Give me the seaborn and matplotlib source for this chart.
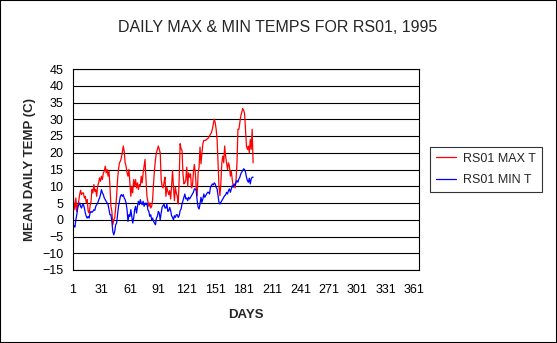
import matplotlib
matplotlib.use("Agg")
import matplotlib.pyplot as plt
import pandas as pd
import seaborn as sns
from matplotlib.patches import Rectangle

# Daily max temperature (C), days 1..191
max_temp = [7.5, 5, 3, 6.5, 2.5, 4.5, 5.5, 7.5, 8.8, 7.5, 8, 8, 6.5, 7, 5, 6, 2.5, 2, 4, 5.5,
            9, 8, 10.5, 8.5, 9, 7, 10, 11, 12.5, 11.5, 13, 12, 14, 14.5, 16, 14, 15, 13, 14.5, 10,
            4, 2.5, -1.5, 0, 0.5, 3.5,
            7, 12, 15, 17, 17.5, 18.5, 20, 22, 20.5, 17, 16, 14, 13, 15, 11, 7, 10, 8, 12, 10,
            12, 9.5, 11, 9, 10.5, 10, 13, 11, 14, 16, 18, 12, 7, 5.5, 4, 5, 3.5, 4, 6, 11,
            15, 18, 20, 21, 22, 21, 20,
            12, 10, 9.5, 11, 12.7, 7, 9.7, 8.5, 7.5, 8.7, 6.2, 10, 14.7, 9.7, 5.7, 9.7, 8, 7, 4.7, 12,
            22.7, 21.2, 20.7, 13.7, 10.7, 11, 12, 15.7, 10, 14, 12.7, 13.7, 9.5, 10, 14, 16.5, 14, 9.7, 7.2, 14,
            15.7, 21.7, 16.7, 19.7, 22.7, 23.7, 23.7, 23.7, 24, 24.2, 24.5, 25,
            25.5, 26, 27, 28.5, 30, 29, 27, 24, 17, 10, 7.2, 11, 17, 19, 17, 22, 19, 17, 15, 17,
            16, 13, 14.5, 12, 10, 10.5, 9.5, 12, 17, 27, 27, 29, 31, 32, 33.2, 32.7, 31.7, 27, 22, 21,
            22, 20, 24, 21, 27, 17]

# Daily min temperature (C), days 1..191
min_temp = [-1.5, -1.8, -2.2, 0, 1.5, 3.5, 4.5, 5, 4, 3.5, 4.5, 4.5, 3.5, 2, 1, 0.5, 1, 0.5, 2, 2.5,
            2.2, 2.5, 3, 2.8, 4, 4.5, 5, 5.8, 6.5, 7.5, 9, 8, 7.5, 6.5, 6, 5.5, 5, 4.5, 3, 1.5,
            1.5, -0.5, -3.5, -4.5, -3.5, -1.5,
            -1, 1.5, 4, 5.5, 7, 7.5, 7, 7.5, 6.5, 6, 5, 3, -0.5, 1.5, 1, 3, 1, -1, 0.5, 3,
            4, 2, 4, 5.5, 4.5, 6, 5, 4.5, 5.5, 4, 5, 4.5, 5, 3, 2.5, 1, 1.5, 0, 0.5, -0.5,
            -1, -1.5, 0.5, 1, 2.5, 2, 0,
            2, 3.7, 4.2, 4.7, 3.5, 3.5, 4.7, 2.5, 2.7, 3.7, 2.7, 1.2, 0.7, 0, 1.2, 0.7, 1.5, 1.5, 0.7, 1.2,
            2.7, 3.2, 4.7, 5.7, 6.7, 7.7, 6.2, 6.5, 5.7, 6.7, 6.2, 6.7, 7.2, 7.7, 8.2, 9.2, 9.2, 8.7, 5.7, 3.7,
            3.2, 4.7, 6.7, 5.2, 6.2, 7.7, 6.7, 7.2, 7.7, 8.2, 8.2, 7.7,
            9.7, 10.2, 10.7, 10.4, 11, 10.7, 9.7, 9.2, 7.2, 5.2, 4.7, 5.2, 5.7, 6.2, 6.7, 7.2, 7.4, 8.2, 7.7, 8.7,
            9.2, 8.2, 9.2, 10.2, 9.7, 10.7, 10.2, 11.2, 11.7, 11.2, 12.2, 12.7, 13.7, 14.2, 14.7, 15.2, 15, 14.2, 12.7, 11.7,
            11.2, 12.4, 10.7, 12.2, 12.7, 12.7]

days = list(range(1, len(max_temp) + 1))
series_names = ["RS01 MAX T", "RS01 MIN T"]
series_colors = ["#ff0000", "#0000ff"]
x_ticks = [1, 31, 61, 91, 121, 151, 181, 211, 241, 271, 301, 331, 361]
y_ticks = list(range(-15, 50, 5))

sns.set_style("white")
plt.rcParams['font.family'] = ['Liberation Sans', 'DejaVu Sans']

n = len(days)
df = pd.DataFrame({
    "day": days + days,
    "temp": max_temp + min_temp,
    "series": [series_names[0]] * n + [series_names[1]] * n,
})

W, H = 557, 343
fig = plt.figure(figsize=(W / 100, H / 100), dpi=100)
fig.patch.set_facecolor("white")
ax = fig.add_axes([73 / W, (H - 270) / H, (419 - 73) / W, (270 - 69) / H])

sns.lineplot(data=df, x="day", y="temp", hue="series",
             palette=dict(zip(series_names, series_colors)),
             estimator=None, sort=False, linewidth=0.9, ax=ax)

ax.set_xlim(1, 366)
ax.set_ylim(-15, 45)
ax.set_xticks(x_ticks)
ax.set_yticks(y_ticks)
ax.yaxis.grid(True, color="black", linewidth=0.8)
ax.xaxis.grid(False)
ax.set_axisbelow(True)
for s in ax.spines.values():
    s.set_visible(True)
    s.set_color("black")
    s.set_linewidth(0.8)
ax.tick_params(axis="both", direction="out", length=4, width=0.8, color="black",
               labelsize=9, labelcolor="black")
ax.tick_params(axis="x", pad=6)
ax.tick_params(axis="y", pad=3)

ax.set_xlabel("DAYS", fontsize=9.5, fontweight="bold")
ax.set_ylabel("MEAN DAILY TEMP (C)", fontsize=9.5, fontweight="bold")
ax.xaxis.set_label_coords(0.5, (270 - 315.5) / 201)
ax.xaxis.label.set_va("center")
ax.yaxis.set_label_coords((30 - 73) / 346, 0.5)
ax.yaxis.label.set_va("center")

fig.text(278 / W, 1 - 28 / H, "DAILY MAX & MIN TEMPS FOR RS01, 1995",
         ha="center", va="center", fontsize=11.5)

leg = ax.legend(loc="upper left", bbox_to_anchor=(430 / W, 1 - 147 / H),
                bbox_transform=fig.transFigure, frameon=True, fancybox=False,
                fontsize=9, handlelength=1.6, handletextpad=0.6, labelspacing=0.75,
                borderpad=0.45, borderaxespad=0, title=None)
leg.get_frame().set_edgecolor("black")
leg.get_frame().set_linewidth(0.8)
for line in leg.get_lines():
    line.set_linewidth(0.9)

fig.patches.append(Rectangle((0, 0), 1, 1, transform=fig.transFigure, fill=False,
                             edgecolor="black", linewidth=1.5))

fig.savefig("out.png", dpi=100)
